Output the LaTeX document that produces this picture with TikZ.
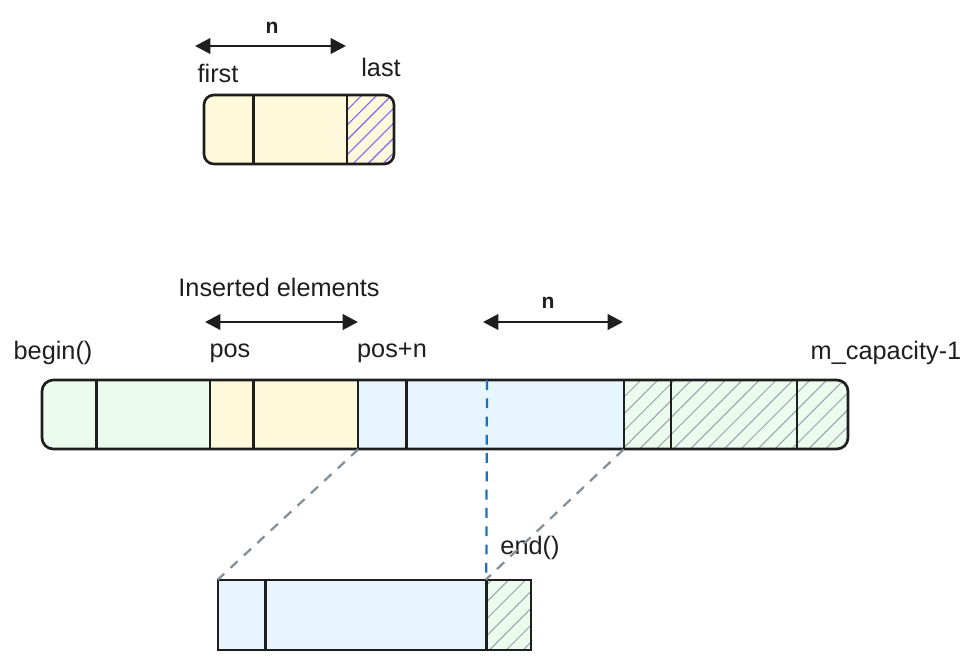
\documentclass[tikz,border=0pt]{standalone}
\usepackage{fontspec}
\setmainfont{Liberation Sans}
\usepackage{xcolor}
\usetikzlibrary{positioning, arrows.meta, fit, patterns.meta, calc}
\definecolor{cellgreen}{HTML}{EBFBEE}
\definecolor{cellyellow}{HTML}{FFF9DB}
\definecolor{cellblue}{HTML}{E7F5FF}
\definecolor{hatchpurple}{HTML}{845EF7}
\definecolor{hatchgray}{HTML}{9AA1A8}
\definecolor{dashblue}{HTML}{1971C2}
\definecolor{dashgray}{HTML}{868E96}
\definecolor{inkblack}{HTML}{1E1E1E}

\tikzset{
  cell/.style={inner sep=0pt, draw=none},
  spare/.style={cell, fill=cellgreen,
    postaction={pattern={Lines[angle=45, distance=8.5pt, line width=0.7pt]}, pattern color=hatchgray}},
  lastcell/.style={cell, fill=cellyellow,
    postaction={pattern={Lines[angle=45, distance=7.5pt, line width=0.8pt]}, pattern color=hatchpurple}},
  outline/.style={inner sep=0pt, draw=inkblack, line width=1.9pt},
  divider/.style={draw=inkblack, line width=2.1pt},
  thindivider/.style={draw=inkblack, line width=1.2pt},
  dimarrow/.style={draw=inkblack, line width=2pt,
    {Triangle[length=11pt, width=11pt]}-{Triangle[length=11pt, width=11pt]}},
  lbl/.style={text=inkblack, font=\fontsize{18}{20}\selectfont, inner sep=1pt},
  nlbl/.style={text=inkblack, font=\bfseries\fontsize{15}{17}\selectfont, inner sep=1pt},
  guide/.style={draw=dashgray, line width=1.6pt, dash pattern=on 7pt off 6pt},
  endguide/.style={draw=dashblue, line width=1.6pt, dash pattern=on 7pt off 6pt}
}

\begin{document}
\begin{tikzpicture}[x=0.025cm, y=-0.025cm]
  \useasboundingbox (0,0) rectangle (960,666);

  % small array: first .. last
  \begin{scope}
    \clip[rounded corners=7pt] (204,95) rectangle (394,164);
    \node[cell, fill=cellyellow, fit={(204,95)(253,164)}] (s1) {};
    \node[cell, fill=cellyellow, fit={(253,95)(347,164)}] (s2) {};
    \node[lastcell, fit={(347,95)(394,164)}] (s3) {};
  \end{scope}
  \draw[divider] (s1.north east) -- (s1.south east);
  \draw[thindivider] (s2.north east) -- (s2.south east);
  \node[outline, rounded corners=7pt, fit={(204,95)(394,164)}] (small) {};

  \coordinate (snL) at (195,46);
  \coordinate (snR) at (346,46);
  \draw[dimarrow] (snL) -- (snR);
  \node[nlbl] (sn) at (272,28) {n};
  \node[lbl] (first) at (218,73) {first};
  \node[lbl] (last) at (381,67) {last};

  % main array
  \begin{scope}
    \clip[rounded corners=8pt] (42,380) rectangle (848,449);
    \node[cell, fill=cellgreen, fit={(42,380)(96,449)}] (m1) {};
    \node[cell, fill=cellgreen, fit={(96,380)(210,449)}] (m2) {};
    \node[cell, fill=cellyellow, fit={(210,380)(253,449)}] (m3) {};
    \node[cell, fill=cellyellow, fit={(253,380)(358,449)}] (m4) {};
    \node[cell, fill=cellblue, fit={(358,380)(406,449)}] (m5) {};
    \node[cell, fill=cellblue, fit={(406,380)(624,449)}] (m6) {};
    \node[spare, fit={(624,380)(848,449)}] (m7) {};
  \end{scope}
  \foreach \c in {m1,m3,m5}
    \draw[divider] (\c.north east) -- (\c.south east);
  \foreach \c in {m2,m4,m6}
    \draw[thindivider] (\c.north east) -- (\c.south east);
  \draw[divider] (671,380) -- (671,449);
  \draw[divider] (797,380) -- (797,449);
  \node[outline, rounded corners=8pt, fit={(42,380)(848,449)}] (main) {};

  \node[lbl] (inserted) at (279,287) {Inserted elements};
  \coordinate (inL) at (205,322);
  \coordinate (inR) at (358,322);
  \draw[dimarrow] (inL) -- (inR);
  \coordinate (mnL) at (483,322);
  \coordinate (mnR) at (623,322);
  \draw[dimarrow] (mnL) -- (mnR);
  \node[nlbl] (mn) at (548,303) {n};

  \node[lbl] (begin) at (53,353) {begin()};
  \node[lbl] (pos) at (230,353) {pos};
  \node[lbl] (posn) at (392,353) {pos+n};
  \node[lbl] (cap) at (886,353) {m\_capacity-1};

  % array after the move
  \node[cell, fill=cellblue, fit={(218,580)(265,650)}] (b1) {};
  \node[cell, fill=cellblue, fit={(265,580)(486,650)}] (b2) {};
  \node[spare, fit={(486,580)(531,650)}] (b3) {};
  \node[outline, fit={(218,580)(531,650)}] (after) {};
  \draw[divider] (b1.north east) -- (b1.south east);
  \draw[divider] (b2.north east) -- (b2.south east);

  \node[lbl] (end) at (530,548) {end()};

  % guides
  \coordinate (endtop) at (487,380);
  \draw[guide] (m4.south east) -- (b1.north west);
  \draw[guide] (m7.south west) -- (b3.north west);
  \draw[endguide] (endtop) -- (b2.north east);
\end{tikzpicture}
\end{document}
